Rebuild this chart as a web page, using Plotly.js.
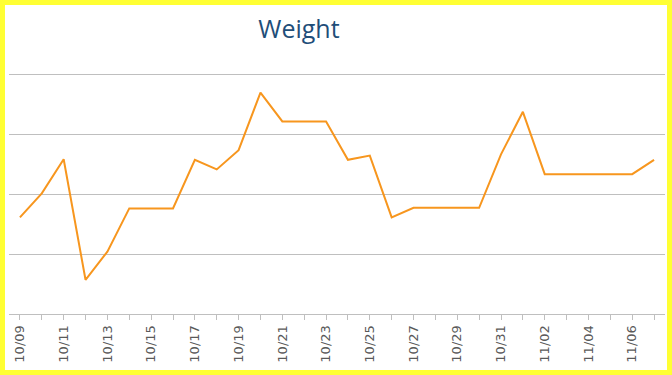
<!DOCTYPE html>
<html>
<head>
<meta charset="utf-8">
<script src="https://cdn.plot.ly/plotly-3.0.1.min.js"></script>
<style>
  html, body { margin: 0; padding: 0; background: #ffffff; }
  #frame { width: 672px; height: 375px; box-sizing: border-box; border: 5px solid #ffff33; background: #ffffff; overflow: hidden; }
  #chart { width: 662px; height: 365px; }
</style>
</head>
<body>
<div id="frame"><div id="chart"></div></div>
<script>
const dates = ["10/09","10/10","10/11","10/12","10/13","10/14","10/15","10/16","10/17","10/18",
               "10/19","10/20","10/21","10/22","10/23","10/24","10/25","10/26","10/27","10/28",
               "10/29","10/30","10/31","11/01","11/02","11/03","11/04","11/05","11/06","11/07"];
const weight = [1.61, 2.01, 2.58, 0.57, 1.04, 1.76, 1.76, 1.76, 2.57, 2.41,
                2.73, 3.69, 3.21, 3.21, 3.21, 2.57, 2.64, 1.61, 1.77, 1.77,
                1.77, 1.77, 2.66, 3.37, 2.33, 2.33, 2.33, 2.33, 2.33, 2.57];
const tickLabels = dates.map((d, i) => (i % 2 === 0 ? d : ""));
const yGrid = [0, 1, 2, 3, 4];

const trace = {
  x: dates,
  y: weight,
  type: "scatter",
  mode: "lines",
  line: { color: "#f7961e", width: 2 },
  hoverinfo: "x+y"
};

const layout = {
  width: 662,
  height: 365,
  margin: { l: 4, r: 2, t: 63, b: 56 },
  paper_bgcolor: "#ffffff",
  plot_bgcolor: "#ffffff",
  showlegend: false,
  title: {
    text: "Weight",
    font: { family: "Open Sans, Noto Sans, sans-serif", size: 25, color: "#1f4e79" },
    xref: "container", x: 0.444, xanchor: "center",
    yref: "container", y: 0.934, yanchor: "middle"
  },
  xaxis: {
    type: "category",
    range: [-0.5, dates.length - 0.5],
    tickmode: "array",
    tickvals: dates,
    ticktext: tickLabels,
    tickangle: -90,
    ticks: "outside",
    ticklen: 5,
    tickcolor: "#bfbfbf",
    tickwidth: 1,
    showline: true,
    linecolor: "#bfbfbf",
    linewidth: 1,
    showgrid: false,
    zeroline: false,
    tickfont: { family: "DejaVu Sans, sans-serif", size: 13, color: "#595959" },
    fixedrange: true
  },
  yaxis: {
    range: [0, 4.1],
    tickmode: "array",
    tickvals: yGrid,
    showticklabels: false,
    showgrid: true,
    gridcolor: "#bfbfbf",
    gridwidth: 1,
    zeroline: false,
    showline: false,
    ticks: "",
    fixedrange: true
  }
};

Plotly.newPlot("chart", [trace], layout, { displayModeBar: false, staticPlot: true });
</script>
</body>
</html>
